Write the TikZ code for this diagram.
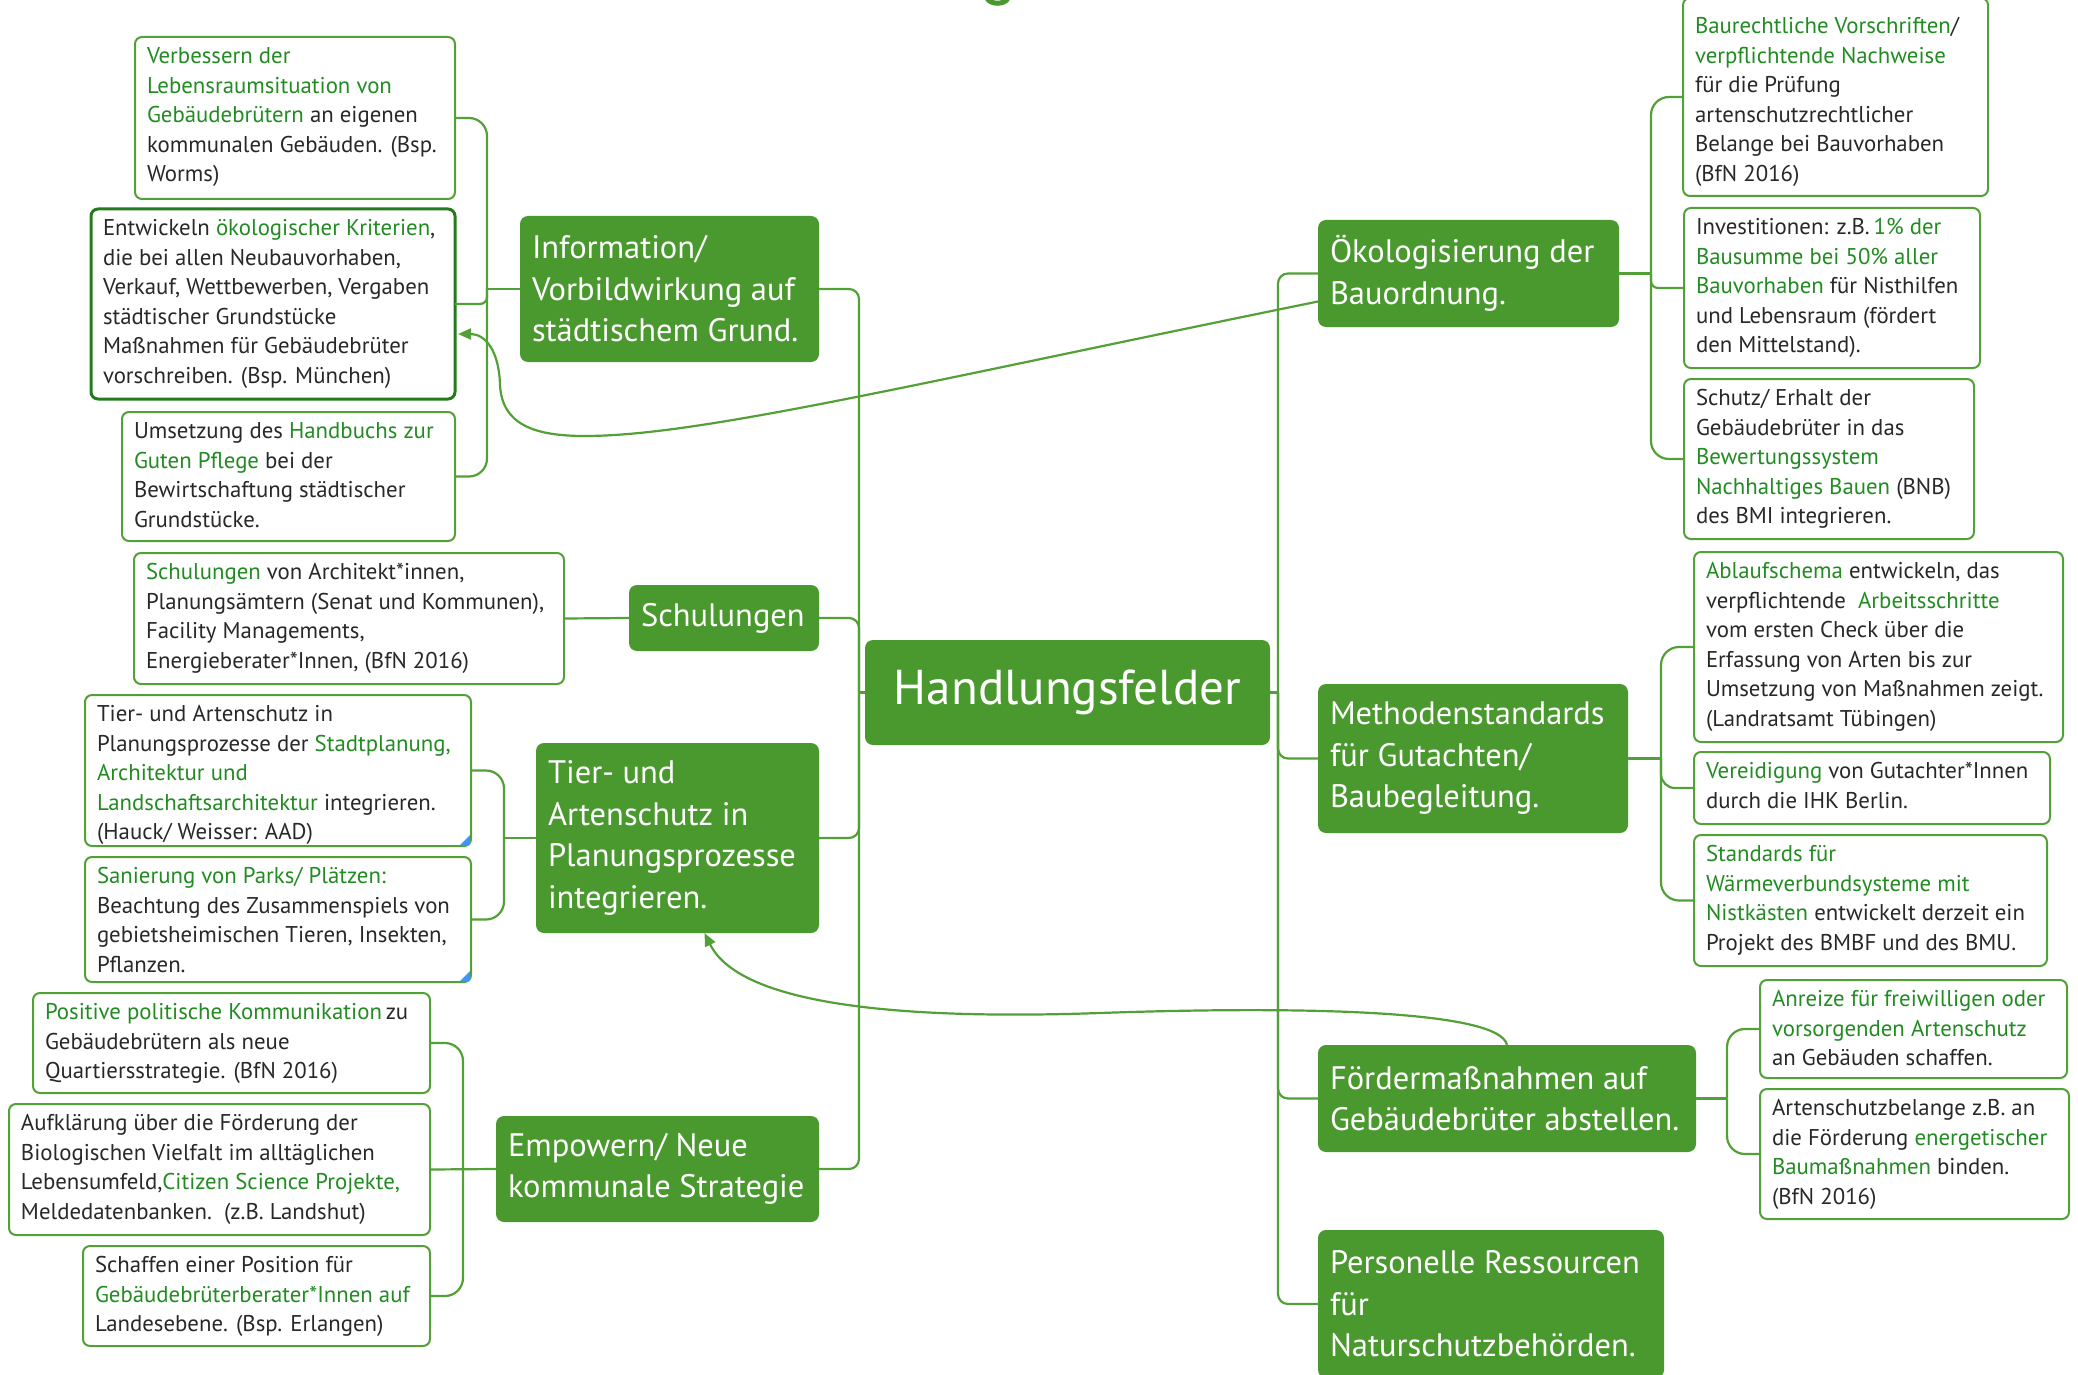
\documentclass[tikz,border=0pt]{standalone}
\usepackage{fontspec}
\setmainfont{PT Sans}
\usetikzlibrary{calc,arrows.meta}
\definecolor{brfill}{RGB}{74,153,46}
\definecolor{lnk}{RGB}{84,160,56}
\definecolor{gtxt}{RGB}{34,139,34}
\definecolor{dtxt}{RGB}{40,40,40}
\definecolor{entwc}{RGB}{38,122,30}
\definecolor{handle}{RGB}{60,150,255}
\hfuzz=100pt \hbadness=10000
\newcommand{\gt}[1]{\textcolor{gtxt}{#1}}
\newcommand{\lffont}{\fontsize{22.8pt}{29.5pt}\selectfont}
\newcommand{\brfont}{\fontsize{32.5pt}{41.5pt}\selectfont}
\newcommand{\lfbox}[7][leaf]{%
  \node[#1] (#2) at (#3,#4) {\hspace*{12pt}\parbox[c][\dimexpr#6pt-12pt\relax][t]{\dimexpr#5pt-12pt\relax}{\lffont\raggedright\strut #7}};}
\newcommand{\brbox}[6]{%
  \node[branch] (#1) at (#2,#3) {\hspace*{12pt}\parbox[c][\dimexpr#5pt\relax][c]{\dimexpr#4pt-12pt\relax}{\brfont\raggedright #6}};}
\begin{document}
\begin{tikzpicture}[x=1pt,y=-1pt,
  leaf/.style={draw=lnk, line width=2pt, rounded corners=7pt, fill=white, anchor=north west,
    inner xsep=0pt, inner ysep=6pt, outer sep=0pt, text=dtxt},
  leafsel/.style={leaf, draw=entwc, line width=3pt},
  branch/.style={fill=brfill, rounded corners=8pt, text=white, anchor=north west,
    inner xsep=0pt, inner ysep=0pt, outer sep=0pt},
  lk/.style={draw=lnk, line width=2.2pt},
  tip/.style={-{Triangle[length=13pt,width=11pt]}}]
\useasboundingbox (0,0) rectangle (2078,1375);
\fill[white] (0,0) rectangle (2078,1375);

% cut-off mark at the top edge
\draw[brfill, line width=5pt, line cap=round] (987,-2) .. controls (990,5) and (1005,5) .. (1008,-2);

% ---------- branch boxes ----------
\node[branch, inner sep=0pt] (central) at (865,640)
  {\parbox[c][105pt][c]{405pt}{\centering\fontsize{49pt}{52pt}\selectfont Handlungsfelder}};
\brbox{info}{520}{216}{299}{146}{Information/\\Vorbildwirkung auf\\städtischem Grund.}
\brbox{schul}{629}{585}{190}{66}{Schulungen}
\brbox{tier}{536}{743}{283}{190}{Tier- und\\Artenschutz in\\Planungsprozesse\\integrieren.}
\brbox{emp}{496}{1116}{323}{106}{Empowern/ Neue\\kommunale Strategie}
\brbox{ok}{1318}{220}{301}{107}{Ökologisierung der\\Bauordnung.}
\brbox{meth}{1318}{684}{310}{149}{Methodenstandards\\für Gutachten/\\Baubegleitung.}
\brbox{foerd}{1318}{1045}{378}{107}{Fördermaßnahmen auf\\Gebäudebrüter abstellen.}
\brbox{pers}{1318}{1230}{346}{148}{Personelle Ressourcen\\für\\Naturschutzbehörden.}

% ---------- leaves ----------
\lfbox{verb}{135}{37}{320}{162}{\gt{Verbessern der}\\\gt{Lebensraumsituation von}\\\gt{Gebäudebrütern} an eigenen\\kommunalen Gebäuden. (Bsp.\\Worms)}
\lfbox[leafsel]{entw}{91}{209}{364}{190}{Entwickeln \gt{ökologischer Kriterien},\\die bei allen Neubauvorhaben,\\Verkauf, Wettbewerben, Vergaben\\städtischer Grundstücke\\Maßnahmen für Gebäudebrüter\\vorschreiben. (Bsp. München)}
\lfbox{umset}{122}{412}{333}{129}{Umsetzung des \gt{Handbuchs zur}\\\gt{Guten Pflege} bei der\\Bewirtschaftung städtischer\\Grundstücke.}
\lfbox{schl}{134}{553}{430}{131}{\gt{Schulungen} von Architekt*innen,\\Planungsämtern (Senat und Kommunen),\\Facility Managements,\\Energieberater*Innen, (BfN 2016)}
\lfbox{tone}{85}{695}{386}{151}{Tier- und Artenschutz in\\Planungsprozesse der \gt{Stadtplanung,}\\\gt{Architektur und}\\\gt{Landschaftsarchitektur} integrieren.\\(Hauck/ Weisser: AAD)}
\lfbox{ttwo}{85}{857}{386}{125}{\gt{Sanierung von Parks/ Plätzen:}\\Beachtung des Zusammenspiels von\\gebietsheimischen Tieren, Insekten,\\Pflanzen.}
\lfbox{pos}{33}{993}{397}{100}{\gt{Positive politische Kommunikation}\,zu\\Gebäudebrütern als neue\\Quartiersstrategie. (BfN 2016)}
\lfbox{aufk}{9}{1104}{421}{131}{Aufklärung über die Förderung der\\Biologischen Vielfalt im alltäglichen\\Lebensumfeld,\gt{Citizen Science Projekte,}\\Meldedatenbanken.\ \ (z.B. Landshut)}
\lfbox{schaf}{83}{1246}{347}{100}{Schaffen einer Position für\\\gt{Gebäudebrüterberater*Innen auf}\\Landesebene. (Bsp. Erlangen)}

\lfbox{baur}{1683}{-2}{305}{198}{\rule{0pt}{29.6pt}\gt{Baurechtliche Vorschriften}/\\\gt{verpflichtende Nachweise}\\für die Prüfung\\artenschutzrechtlicher\\Belange bei Bauvorhaben\\(BfN 2016)}
\lfbox{inv}{1684}{208}{296}{160}{Investitionen: z.B.\,\gt{1\% der}\\\gt{Bausumme bei 50\% aller}\\\gt{Bauvorhaben} für Nisthilfen\\und Lebensraum (fördert\\den Mittelstand).}
\lfbox{schutz}{1684}{379}{290}{160}{Schutz/ Erhalt der\\Gebäudebrüter in das\\\gt{Bewertungssystem}\\\gt{Nachhaltiges Bauen} (BNB)\\des BMI integrieren.}
\lfbox{abl}{1694}{552}{369}{190}{\gt{Ablaufschema} entwickeln, das\\verpflichtende\ \ \gt{Arbeitsschritte}\\vom ersten Check über die\\Erfassung von Arten bis zur\\Umsetzung von Maßnahmen zeigt.\\(Landratsamt Tübingen)}
\lfbox{ver}{1694}{752}{356}{72}{\gt{Vereidigung} von Gutachter*Innen\\durch die IHK Berlin.}
\lfbox{std}{1694}{835}{353}{131}{\gt{Standards für}\\\gt{Wärmeverbundsysteme mit}\\\gt{Nistkästen} entwickelt derzeit ein\\Projekt des BMBF und des BMU.}
\lfbox{anr}{1760}{980}{307}{98}{\gt{Anreize für freiwilligen oder}\\\gt{vorsorgenden Artenschutz}\\an Gebäuden schaffen.}
\lfbox{art}{1760}{1089}{309}{130}{Artenschutzbelange z.B. an\\die Förderung \gt{energetischer}\\\gt{Baumaßnahmen} binden.\\(BfN 2016)}

% small resize handles
\fill[handle] ($(tone.south east)+(-1,-1)$) -- ++(-10,0) -- ++(10,-10) -- cycle;
\fill[handle] ($(ttwo.south east)+(-1,-1)$) -- ++(-10,0) -- ++(10,-10) -- cycle;

% ---------- main trunk ----------
\coordinate (Ltr) at ($(central.west)+(-6,0)$);
\coordinate (Rtr) at ($(central.east)+(8,0)$);
\draw[lk] (central.west) -- (Ltr);
\draw[lk] (central.east) -- (Rtr);
\foreach \b in {info,schul,tier,emp} \draw[lk, rounded corners=10pt] (Ltr) |- (\b.east);
\foreach \b in {ok,meth,foerd,pers} \draw[lk, rounded corners=10pt] (Rtr) |- (\b.west);

% ---------- leaf brackets ----------
\coordinate (isp) at ($(info.west)+(-33,0)$);
\draw[lk] (info.west) -- (isp);
\draw[lk, rounded corners=18pt] (isp) |- (verb.east);
\draw[lk, rounded corners=7pt] (isp) |- (entw.east);
\draw[lk, rounded corners=18pt] (isp) |- (umset.east);

\draw[lk] (schul.west) -- (schl.east);

\coordinate (tsp) at ($(tier.west)+(-32,0)$);
\draw[lk] (tier.west) -- (tsp);
\draw[lk, rounded corners=18pt] (tsp) |- (tone.east);
\draw[lk, rounded corners=18pt] (tsp) |- (ttwo.east);

\coordinate (esp) at ($(emp.west)+(-33,0)$);
\draw[lk] (emp.west) -- (aufk.east);
\draw[lk, rounded corners=18pt] (esp) |- (pos.east);
\draw[lk, rounded corners=18pt] (esp) |- (schaf.east);

\coordinate (osp) at ($(ok.east)+(32,0)$);
\draw[lk] (ok.east) -- (osp);
\draw[lk, rounded corners=18pt] (osp) |- (baur.west);
\draw[lk, rounded corners=7pt] (osp) |- (inv.west);
\draw[lk, rounded corners=18pt] (osp) |- (schutz.west);

\coordinate (msp) at ($(meth.east)+(33,0)$);
\draw[lk] (meth.east) -- (msp);
\draw[lk, rounded corners=18pt] (msp) |- (abl.west);
\draw[lk, rounded corners=14pt] (msp) |- (ver.west);
\draw[lk, rounded corners=18pt] (msp) |- (std.west);

\coordinate (fsp) at ($(foerd.east)+(31,0)$);
\draw[lk] (foerd.east) -- (fsp);
\draw[lk, rounded corners=18pt] (fsp) |- (anr.west);
\draw[lk, rounded corners=18pt] (fsp) |- (art.west);

% ---------- cross links ----------
\draw[lk, tip] ($(ok.west)+(0,28)$) .. controls (918,383) and (700,436) .. (585,436)
  .. controls (535,436) and (502,425) .. (500,385)
  .. controls (499,350) and (485,334) .. ($(entw.east)+(3,30)$);
\draw[lk, tip] (foerd.north) .. controls (1500,1010) and (1300,1006) .. (1100,1013)
  .. controls (900,1020) and (740,1005) .. ($(tier.south)+(27,0)$);
\end{tikzpicture}
\end{document}
